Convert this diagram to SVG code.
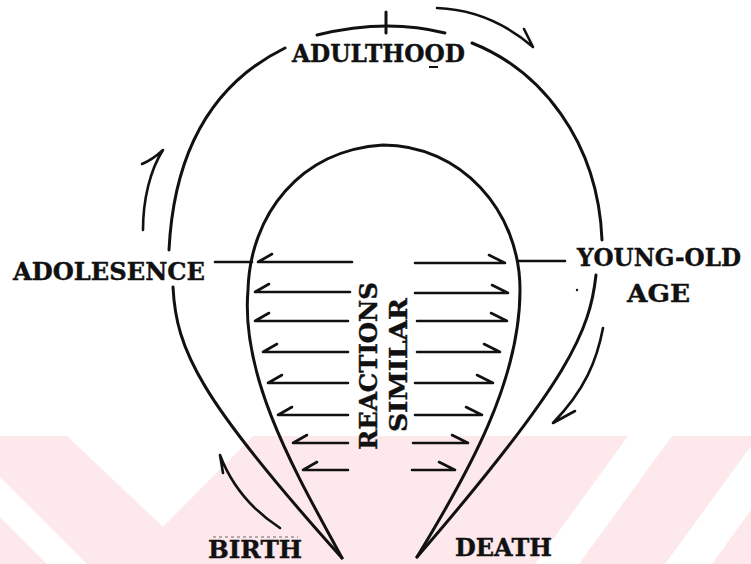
<svg xmlns="http://www.w3.org/2000/svg" width="751" height="564" viewBox="0 0 751 564">
<style>
.ln{fill:none;stroke:#111;stroke-width:3;stroke-linecap:round;stroke-linejoin:round}
.ar{fill:none;stroke:#111;stroke-width:2.6;stroke-linecap:round;stroke-linejoin:round}
.lb{font-family:"DejaVu Serif","Liberation Serif",serif;font-weight:bold;font-size:25px;fill:#111;stroke:#111;stroke-width:0.4}
</style>
<rect width="751" height="564" fill="#fff"/>
<g id="watermark">
<rect x="0" y="436" width="751" height="128" fill="#fde8ec"/>
<g fill="#fff">
<polygon points="67,436 253,436 163,527"/>
<polygon points="0,477 0,517 47,564 87,564"/>
<polygon points="628,436 672,436 579,564 535,564"/>
<polygon points="751,446 751,510 712,564 665,564"/>
</g>
</g>
<g id="connectors">
<path class="ln" d="M285,48 C230,75 175,130 169,250"/>
<path class="ln" d="M173,287 C176,350 200,400 342,558"/>
<path class="ln" d="M317,35 Q386,18 445,33"/>
<path class="ln" d="M472,43 C540,70 598,140 602,240"/>
<path class="ln" d="M596,275 C590,330 570,380 417,557"/>
<path class="ln" d="M342,558 C300,480 240,380 248,290 C250,215 300,150 383,145 C460,145 520,210 520,290 C520,380 470,470 417,557"/>
<path class="ln" d="M386,12 L386,33"/>
<path class="ar" d="M215,262 L252,262"/>
<path class="ar" d="M518,261 L565,261"/>
<path class="ar" d="M437,8 Q490,10 533,47 L524,29"/>
<path class="ar" d="M143,230 C143,200 150,170 163,150 Q152,160 142,164"/>
<path class="ar" d="M603,328 C597,360 585,390 553,423 L575,411"/>
<path class="ar" d="M280,528 Q237,500 220,455 L223,473"/>
</g>
<g id="reaction-arrows" class="ar">
<path d="M352,262 H258 L272,254"/>
<path d="M350,292 H255 L269,284"/>
<path d="M348,321 H255 L269,313"/>
<path d="M348,352 H263 L277,344"/>
<path d="M348,383 H268 L282,375"/>
<path d="M348,415 H278 L292,407"/>
<path d="M348,443 H293 L307,435"/>
<path d="M348,470 H303 L317,462"/>
<path d="M415,263 H505 L489,255"/>
<path d="M415,293 H508 L492,285"/>
<path d="M417,321 H507 L491,313"/>
<path d="M417,352 H500 L484,344"/>
<path d="M415,383 H493 L477,375"/>
<path d="M415,415 H482 L466,407"/>
<path d="M413,443 H468 L452,435"/>
<path d="M412,470 H455 L439,462"/>
</g>
<g id="adulthood"><text class="lb" x="292" y="62" textLength="173" lengthAdjust="spacingAndGlyphs">ADULTHOOD</text></g>
<g id="adolesence"><text class="lb" x="13" y="280" textLength="192" lengthAdjust="spacingAndGlyphs">ADOLESENCE</text></g>
<g id="young-old"><text class="lb" x="577" y="266" font-size="24" textLength="164" lengthAdjust="spacingAndGlyphs">YOUNG-OLD</text><text class="lb" x="627" y="302" textLength="63" lengthAdjust="spacingAndGlyphs">AGE</text></g>
<g id="birth"><line x1="213" y1="537" x2="298" y2="537" stroke="#666" stroke-width="1" stroke-dasharray="3,3"/><text class="lb" x="208" y="557.5" textLength="94" lengthAdjust="spacingAndGlyphs">BIRTH</text></g>
<g id="death"><text class="lb" x="455" y="556" textLength="97" lengthAdjust="spacingAndGlyphs">DEATH</text></g>
<g id="reactions"><text class="lb" transform="translate(377,366) rotate(-90)" x="-84" textLength="168" lengthAdjust="spacingAndGlyphs">REACTIONS</text></g>
<g id="similar"><text class="lb" transform="translate(407,365) rotate(-90)" x="-67" textLength="134" lengthAdjust="spacingAndGlyphs">SIMILAR</text></g>
<g id="specks" fill="#111">
<rect x="429" y="66" width="9" height="2"/>
<circle cx="577" cy="290" r="1.2"/>
</g>
</svg>
